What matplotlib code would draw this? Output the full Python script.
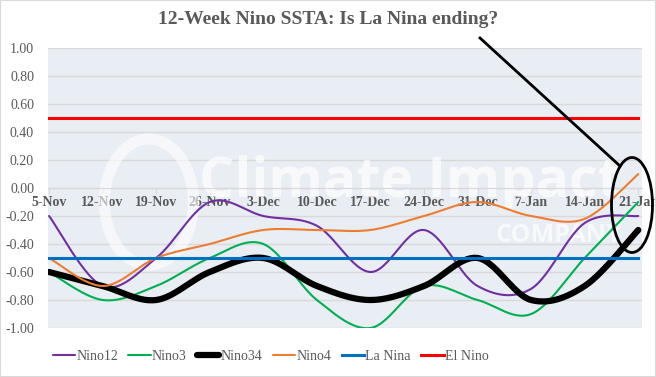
import numpy as np
import matplotlib
matplotlib.use("Agg")
from matplotlib import pyplot as plt
from matplotlib.patches import Ellipse, Rectangle
from matplotlib.lines import Line2D

weeks = ["5-Nov", "12-Nov", "19-Nov", "26-Nov", "3-Dec", "10-Dec",
         "17-Dec", "24-Dec", "31-Dec", "7-Jan", "14-Jan", "21-Jan"]
nino12 = [-0.20, -0.70, -0.50, -0.10, -0.20, -0.27, -0.60, -0.30, -0.70, -0.72, -0.25, -0.20]
nino3 = [-0.60, -0.80, -0.70, -0.50, -0.40, -0.80, -1.00, -0.70, -0.80, -0.90, -0.50, -0.10]
nino34 = [-0.60, -0.70, -0.80, -0.60, -0.50, -0.70, -0.80, -0.70, -0.50, -0.80, -0.70, -0.30]
nino4 = [-0.50, -0.70, -0.50, -0.40, -0.30, -0.30, -0.30, -0.20, -0.10, -0.20, -0.22, 0.10]
la_nina = -0.5
el_nino = 0.5
yticks = [-1.0, -0.8, -0.6, -0.4, -0.2, 0.0, 0.2, 0.4, 0.6, 0.8, 1.0]

grey = "#595959"
serif = ["Liberation Serif", "DejaVu Serif"]


def smooth(y, n=30):
    # Excel-style smoothed line: cubic bezier through the points
    x = np.arange(len(y), dtype=float)
    y = np.asarray(y, dtype=float)
    px = np.concatenate([[x[0]], x, [x[-1]]])
    py = np.concatenate([[y[0]], y, [y[-1]]])
    xs, ys = [], []
    t = np.linspace(0, 1, n)
    for i in range(1, len(px) - 2):
        p0 = np.array([px[i], py[i]])
        p3 = np.array([px[i + 1], py[i + 1]])
        c1 = p0 + (np.array([px[i + 1], py[i + 1]]) - np.array([px[i - 1], py[i - 1]])) / 6
        c2 = p3 - (np.array([px[i + 2], py[i + 2]]) - np.array([px[i], py[i]])) / 6
        b = ((1 - t) ** 3)[:, None] * p0 + (3 * (1 - t) ** 2 * t)[:, None] * c1 \
            + (3 * (1 - t) * t ** 2)[:, None] * c2 + (t ** 3)[:, None] * p3
        xs.extend(b[:, 0])
        ys.extend(b[:, 1])
    return xs, ys


fig = plt.figure(figsize=(6.56, 3.77), dpi=100)
ax = fig.add_axes([48 / 656, 1 - 328 / 377, 594 / 656, 280 / 377])
ax.set_facecolor("#E9EDF4")

# watermark
ax.text(0.61, 0.52, "Climate Impact", transform=ax.transAxes, fontsize=40,
        fontweight="bold", color="white", alpha=0.7, ha="center", va="center",
        family=["Open Sans", "DejaVu Sans"], zorder=1)
ax.text(0.86, 0.33, "COMPANY", transform=ax.transAxes, fontsize=18,
        fontweight="bold", color="white", alpha=0.7, ha="center", va="center",
        family=["Open Sans", "DejaVu Sans"], zorder=1)
ax.add_patch(Ellipse((0.17, 0.45), 0.15, 0.45, transform=ax.transAxes,
                     fill=False, ec="white", lw=8, alpha=0.6, zorder=1))

series = [("Nino12", nino12, "#7030A0", 1.5),
          ("Nino3", nino3, "#00B050", 1.5),
          ("Nino34", nino34, "black", 4.5),
          ("Nino4", nino4, "#ED7D31", 1.5)]
for name, vals, col, lw in series:
    sx, sy = smooth(vals)
    ax.plot(sx, sy, color=col, lw=lw, label=name, zorder=3, solid_capstyle="round")

xs = np.arange(len(weeks))
ax.plot(xs, [la_nina] * len(weeks), color="#0070C0", lw=2.2, label="La Nina", zorder=3)
ax.plot(xs, [el_nino] * len(weeks), color="#FF0000", lw=2.2, label="El Nino", zorder=3)

ax.set_ylim(-1, 1)
ax.set_xlim(-0.02, 11.07)
ax.set_yticks(yticks)
ax.set_yticklabels(["%.2f" % v for v in yticks])
ax.set_xticks(xs)
ax.set_xticklabels(weeks)
ax.grid(axis="y", color="#D9D9D9", lw=1, zorder=0)
ax.set_axisbelow(True)
for s in ["left", "right", "top"]:
    ax.spines[s].set_visible(False)
ax.spines["bottom"].set_position(("data", 0))
ax.spines["bottom"].set_color("#D9D9D9")
ax.tick_params(axis="y", length=0, labelsize=10, labelcolor=grey, pad=10)
ax.tick_params(axis="x", length=4, color="#D9D9D9", labelsize=10, labelcolor=grey, pad=2)
for lab in ax.get_yticklabels():
    lab.set_family(serif)
for lab in ax.get_xticklabels():
    lab.set_family(serif)
    lab.set_fontweight("bold")

fig.text(0.5, 1 - 20 / 377, "12-Week Nino SSTA: Is La Nina ending?", ha="center", va="center",
         fontsize=14, fontweight="bold", color=grey, family=serif)

leg = fig.legend(loc="center left", bbox_to_anchor=(40 / 656, 1 - 356 / 377), ncol=6,
                 frameon=False, handlelength=1.6, handletextpad=0.1, columnspacing=0.75,
                 prop={"family": serif, "size": 10})
for t in leg.get_texts():
    t.set_color(grey)

# annotation pointing to the latest week
fig.add_artist(Line2D([480 / 656, 620 / 656], [1 - 38 / 377, 1 - 166 / 377],
                      color="black", lw=2, transform=fig.transFigure))
fig.add_artist(Ellipse((632 / 656, 1 - 205 / 377), 41 / 656, 95 / 377,
                       fill=False, ec="black", lw=2, transform=fig.transFigure))

fig.add_artist(Rectangle((0, 0), 1, 1, transform=fig.transFigure, fill=False,
                         ec="#D9D9D9", lw=1.5))

fig.savefig("out.png", dpi=100)
